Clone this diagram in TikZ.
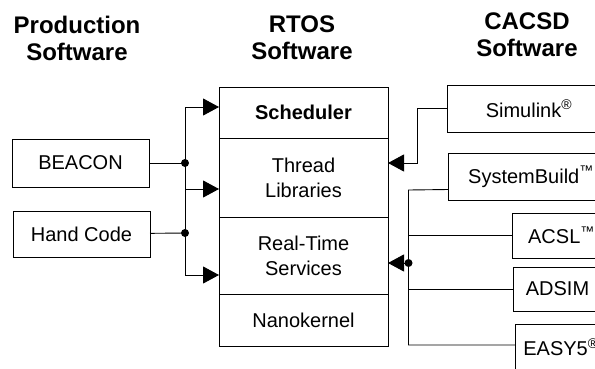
\documentclass[tikz,border=0pt]{standalone}
\usepackage{fontspec}
\setmainfont{Liberation Sans}
\usetikzlibrary{positioning}
\usetikzlibrary{arrows.meta}

\begin{document}
\begin{tikzpicture}[x=1pt,y=-1pt,line width=0.9pt,font=\fontsize{20}{25}\selectfont]
	\tikzstyle{layer}=[draw,rectangle,inner sep=0pt,outer sep=0pt,align=center,minimum width=169pt];
	\tikzstyle{swbox}=[draw,rectangle,inner sep=0pt,outer sep=0pt,align=center];
	\tikzstyle{ttl}=[align=center,font=\fontsize{24}{27}\selectfont\bfseries];
	\tikzstyle{feed}=[-{Triangle[length=16pt,width=17pt]}];
	\tikzstyle{bullet}=[circle,fill=black,inner sep=0pt,minimum size=8pt];
	\useasboundingbox (0,0) rectangle (595,368);
	\clip (0,0) rectangle (595,368);
	%% Titles
	\node[ttl] (prodttl)  at (77,38)  {Production\\Software};
	\node[ttl] (rtosttl)  at (302,38) {RTOS\\Software};
	\node[ttl] (cacsdttl) at (527,35) {CACSD\\Software};
	%% RTOS layers
	\node[layer,minimum height=51pt] (sched) at (303.5,112.5) {\textbf{Scheduler}};
	\node[layer,minimum height=79pt,below=0pt of sched]  (thread) {Thread\\Libraries};
	\node[layer,minimum height=77pt,below=0pt of thread] (rts)    {Real-Time\\Services};
	\node[layer,minimum height=52pt,below=0pt of rts]    (nano)   {Nanokernel};
	%% Production
	\node[swbox,minimum width=137pt,minimum height=48pt] (beacon) at (80.5,163) {BEACON};
	\node[swbox,minimum width=137pt,minimum height=46pt] (hand)   at (81.5,234) {Hand Code};
	%% CACSD
	\node[swbox,minimum width=164pt,minimum height=47pt] (simulink) at (529,108.5) {Simulink\textsuperscript{®}};
	\node[swbox,minimum width=166pt,minimum height=47pt] (sysbuild) at (531,176.5) {SystemBuild\textsuperscript{™}};
	\node[swbox,minimum width=99pt,minimum height=45pt]  (acsl)     at (561.5,235.5) {ACSL\textsuperscript{™}};
	\node[swbox,minimum width=89pt,minimum height=44pt]  (adsim)    at (557.5,289) {ADSIM};
	\node[swbox,minimum width=92pt,minimum height=46pt]  (easy)     at (561,347) {EASY5\textsuperscript{®}};
	%% Left bus
	\coordinate (ltop) at (185,107);
	\coordinate (lmid) at (185,189);
	\coordinate (lbot) at (185,275);
	\coordinate (lj1)  at (185,163);
	\coordinate (lj2)  at (185,233);
	\draw (ltop) -- (lbot);
	\draw (beacon) -- (lj1);
	\draw (hand) -- (lj2);
	\draw[feed] (ltop) -- (ltop -| sched.west);
	\draw[feed] (lmid) -- (lmid -| thread.west);
	\draw[feed] (lbot) -- (lbot -| rts.west);
	%% Right bus
	\coordinate (sbend) at (417,163);
	\coordinate (rtop) at (408.5,190);
	\coordinate (rbot) at (408.5,345);
	\coordinate (rj)   at (408.5,263);
	\draw[feed] (simulink.west) -| (sbend) -- (sbend -| thread.east);
	\draw ([yshift=-13pt]sysbuild.west) -- (rtop) -- (rbot) -- (rbot -| easy.west);
	\draw (acsl.west) -- (acsl.west -| rtop);
	\draw (adsim.west) -- (adsim.west -| rtop);
	\draw[feed] (rj) -- (rj -| rts.east);
	%% Junctions
	\node[bullet] (dot1) at (lj1) {};
	\node[bullet] (dot2) at (lj2) {};
	\node[bullet] (dot3) at (rj)  {};
\end{tikzpicture}
\end{document}
